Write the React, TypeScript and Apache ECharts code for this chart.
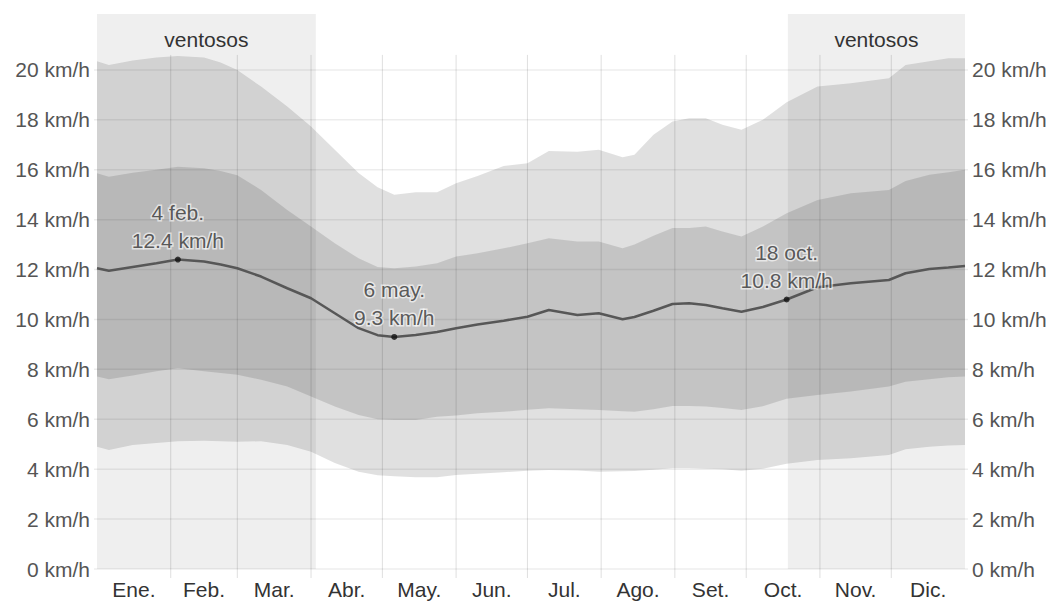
import React, { useEffect, useRef } from "react";
import * as echarts from "echarts";

// Day of year (0 = 1 Jan) at which the curves were sampled
const DAYS = [0, 5, 15, 25, 34, 45, 52, 59, 69, 80, 90, 100, 110, 118, 125, 134, 143, 151, 160, 171, 181, 190, 202, 211, 221, 226, 234, 242, 249, 256, 263, 271, 280, 290, 303, 317, 333, 340, 350, 358, 365];
// 90th percentile
const P90 = [20.35, 20.2, 20.38, 20.5, 20.56, 20.5, 20.3, 20.0, 19.33, 18.53, 17.73, 16.8, 15.87, 15.3, 15.0, 15.1, 15.1, 15.46, 15.75, 16.15, 16.26, 16.75, 16.72, 16.8, 16.5, 16.6, 17.4, 17.93, 18.06, 18.06, 17.8, 17.6, 18.0, 18.7, 19.33, 19.47, 19.67, 20.2, 20.35, 20.47, 20.47];
// 75th percentile
const P75 = [15.86, 15.72, 15.88, 16.0, 16.12, 16.06, 15.95, 15.78, 15.19, 14.39, 13.72, 13.05, 12.45, 12.1, 12.05, 12.12, 12.25, 12.52, 12.65, 12.85, 13.05, 13.25, 13.12, 13.12, 12.85, 13.0, 13.35, 13.66, 13.66, 13.72, 13.52, 13.32, 13.72, 14.26, 14.79, 15.06, 15.19, 15.55, 15.8, 15.9, 16.0];
// average
const MEAN = [12.05, 11.95, 12.1, 12.25, 12.4, 12.32, 12.2, 12.05, 11.72, 11.25, 10.85, 10.25, 9.65, 9.37, 9.3, 9.38, 9.5, 9.65, 9.8, 9.95, 10.11, 10.38, 10.18, 10.25, 10.01, 10.1, 10.35, 10.62, 10.65, 10.58, 10.45, 10.31, 10.5, 10.8, 11.29, 11.45, 11.58, 11.85, 12.02, 12.08, 12.14];
// 25th percentile
const P25 = [7.71, 7.6, 7.75, 7.92, 8.04, 7.92, 7.85, 7.78, 7.58, 7.31, 6.91, 6.51, 6.17, 6.0, 5.97, 5.97, 6.1, 6.15, 6.24, 6.3, 6.38, 6.44, 6.4, 6.37, 6.32, 6.3, 6.4, 6.53, 6.53, 6.51, 6.45, 6.37, 6.52, 6.82, 6.97, 7.11, 7.31, 7.5, 7.6, 7.68, 7.71];
// 10th percentile
const P10 = [4.9, 4.77, 4.97, 5.05, 5.12, 5.14, 5.12, 5.1, 5.12, 4.97, 4.7, 4.25, 3.9, 3.76, 3.72, 3.68, 3.68, 3.77, 3.82, 3.88, 3.94, 3.97, 3.95, 3.9, 3.92, 3.93, 3.98, 4.04, 4.04, 4.02, 4.0, 3.94, 4.02, 4.22, 4.37, 4.44, 4.57, 4.8, 4.9, 4.95, 4.97];

const MONTHS = ["Ene.", "Feb.", "Mar.", "Abr.", "May.", "Jun.", "Jul.", "Ago.", "Set.", "Oct.", "Nov.", "Dic."];
const MONTH_STARTS = [0, 31, 59, 90, 120, 151, 181, 212, 243, 273, 304, 334, 365];
const Y_TICKS = [0, 2, 4, 6, 8, 10, 12, 14, 16, 18, 20];
const Y_MAX = 22.24;

// windy season ranges (day of year)
const WINDY_START = [0, 290.5];
const WINDY_END = [92, 365];
const WINDY_LABEL = "ventosos";

// highlighted points
const HL_DAYS = [34, 125, 290];
const HL_VALUES = [12.4, 9.3, 10.8];
const HL_NAMES = ["4 feb.", "6 may.", "18 oct."];

const FONT = "'Liberation Sans', Arial, sans-serif";

export default function App() {
  const ref = useRef<HTMLDivElement>(null);

  useEffect(() => {
    document.body.style.margin = "0";
    if (!ref.current) return;
    const chart = echarts.init(ref.current, null, { renderer: "svg" });

    const mids = MONTHS.map((_, i) => (MONTH_STARTS[i] + MONTH_STARTS[i + 1]) / 2);
    const pairs = (arr: number[]) => DAYS.map((d, i) => [d, arr[i]]);

    const band = (upper: number[], lower: number[], z: number) => ({
      type: "custom",
      z,
      silent: true,
      clip: false,
      data: [[DAYS[0], lower[0]]],
      renderItem: (_params: any, api: any) => {
        const pts: number[][] = [];
        DAYS.forEach((d, i) => pts.push(api.coord([d, upper[i]])));
        for (let i = DAYS.length - 1; i >= 0; i--) pts.push(api.coord([DAYS[i], lower[i]]));
        return {
          type: "polygon",
          shape: { points: pts },
          style: { fill: "rgba(0,0,0,0.12)" },
        };
      },
    });

    const yAxisBase = (pos: "left" | "right") => ({
      type: "value",
      position: pos,
      min: 0,
      max: Y_MAX,
      interval: 2,
      axisLine: { show: false },
      axisTick: { show: false },
      splitLine: { show: false },
      axisLabel: {
        margin: 7,
        color: "#555",
        fontSize: 21,
        fontFamily: FONT,
        formatter: (v: number) => (v > 20.01 ? "" : `${v} km/h`),
      },
    });

    const option: any = {
      animation: false,
      backgroundColor: "#ffffff",
      grid: { left: 97, right: 93, top: 14, bottom: 35, outerBoundsMode: "none" },
      xAxis: {
        type: "value",
        min: 0,
        max: 365,
        axisLine: { show: false },
        axisTick: { show: false },
        splitLine: { show: false },
        axisLabel: {
          customValues: mids,
          margin: 10,
          color: "#333",
          fontSize: 21,
          fontFamily: FONT,
          formatter: (v: number) => {
            let best = 0;
            mids.forEach((m, i) => {
              if (Math.abs(m - v) < Math.abs(mids[best] - v)) best = i;
            });
            return MONTHS[best];
          },
        },
      },
      yAxis: [yAxisBase("left"), yAxisBase("right")],
      series: [
        {
          type: "custom",
          name: "windy",
          z: 0,
          clip: false,
          silent: true,
          data: WINDY_START.map((s, i) => [s, WINDY_END[i]]),
          renderItem: (params: any, api: any) => {
            const cs = params.coordSys;
            const x0 = api.coord([api.value(0), 0])[0];
            const x1 = api.coord([api.value(1), 0])[0];
            return {
              type: "group",
              children: [
                {
                  type: "rect",
                  shape: { x: x0, y: cs.y, width: x1 - x0, height: cs.height },
                  style: { fill: "#efefef" },
                },
                {
                  type: "text",
                  x: (x0 + x1) / 2,
                  y: cs.y + 25,
                  style: {
                    text: WINDY_LABEL,
                    fill: "#333",
                    font: `21px ${FONT}`,
                    align: "center",
                    verticalAlign: "middle",
                  },
                },
              ],
            };
          },
        },
        band(P90, P10, 1),
        band(P75, P25, 1),
        {
          type: "custom",
          name: "hgrid",
          z: 2,
          clip: false,
          silent: true,
          data: Y_TICKS.map((v) => [0, v]),
          renderItem: (params: any, api: any) => {
            const cs = params.coordSys;
            const y = api.coord([0, api.value(1)])[1];
            return {
              type: "line",
              shape: { x1: cs.x - 3, y1: y, x2: cs.x + cs.width + 3, y2: y },
              style: { stroke: "rgba(0,0,0,0.07)", lineWidth: 1.5 },
            };
          },
        },
        {
          type: "custom",
          name: "vgrid",
          z: 2,
          clip: false,
          silent: true,
          data: MONTH_STARTS.slice(1, 12).map((d) => [d, 0]),
          renderItem: (params: any, api: any) => {
            const top = api.coord([api.value(0), 20]);
            const bottom = api.coord([api.value(0), 0]);
            return {
              type: "line",
              shape: { x1: top[0], y1: top[1] - 15, x2: bottom[0], y2: bottom[1] + 9 },
              style: { stroke: "rgba(0,0,0,0.13)", lineWidth: 1 },
            };
          },
        },
        {
          type: "line",
          name: "mean",
          z: 4,
          symbol: "none",
          silent: true,
          lineStyle: { color: "#575757", width: 2.5 },
          data: pairs(MEAN),
        },
        {
          type: "scatter",
          z: 5,
          silent: true,
          symbolSize: 6,
          itemStyle: { color: "#111" },
          data: HL_DAYS.map((d, i) => ({ value: [d, HL_VALUES[i]], name: HL_NAMES[i] })),
          label: {
            show: true,
            position: "top",
            distance: 2,
            formatter: (p: any) => `${p.name}\n${p.value[1]} km/h`,
            fontSize: 21,
            lineHeight: 28,
            fontFamily: FONT,
            color: "#333",
            textBorderColor: "rgba(255,255,255,0.75)",
            textBorderWidth: 3,
            align: "center",
          },
        },
      ],
    };

    chart.setOption(option);
    return () => chart.dispose();
  }, []);

  return (
    <div
      ref={ref}
      style={{ position: "absolute", left: 0, top: 0, width: 1058, height: 604 }}
    />
  );
}
